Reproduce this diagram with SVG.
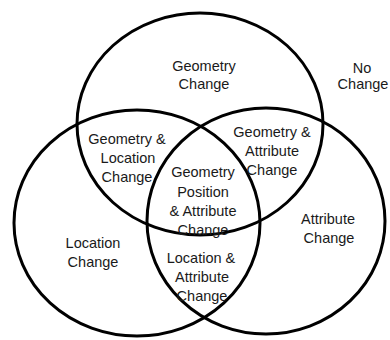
<svg xmlns="http://www.w3.org/2000/svg" width="390" height="340" viewBox="0 0 390 340">
<style>
.c{fill:none;stroke:#000;stroke-width:3}
.t{font-family:"Liberation Sans",Arial,sans-serif;font-size:14.5px;fill:#1a1a1a;text-anchor:middle}
</style>
<rect width="390" height="340" fill="#fff"/>
<g id="geometry-set"><ellipse class="c" cx="200" cy="124" rx="123" ry="111"/></g>
<g id="location-set"><ellipse class="c" cx="137" cy="223" rx="123" ry="113"/></g>
<g id="attribute-set"><ellipse class="c" cx="266" cy="221" rx="119" ry="113"/></g>
<g id="connectors"/>
<g id="geometry-change"><text class="t" x="204" y="71">Geometry</text><text class="t" x="204" y="89">Change</text></g>
<g id="no-change"><text class="t" x="362" y="73">No</text><text class="t" x="363" y="89">Change</text></g>
<g id="geometry-location"><text class="t" x="127" y="144">Geometry &amp;</text><text class="t" x="128" y="163">Location</text><text class="t" x="127" y="182">Change</text></g>
<g id="geometry-attribute"><text class="t" x="272" y="137">Geometry &amp;</text><text class="t" x="272" y="156">Attribute</text><text class="t" x="272" y="175">Change</text></g>
<g id="all-change"><text class="t" x="203" y="177">Geometry</text><text class="t" x="203" y="197">Position</text><text class="t" x="203" y="216">&amp; Attribute</text><text class="t" x="203" y="235">Change</text></g>
<g id="location-change"><text class="t" x="93" y="248">Location</text><text class="t" x="93" y="267">Change</text></g>
<g id="location-attribute"><text class="t" x="201" y="263">Location &amp;</text><text class="t" x="202" y="282">Attribute</text><text class="t" x="202" y="301">Change</text></g>
<g id="attribute-change"><text class="t" x="328" y="224">Attribute</text><text class="t" x="329" y="243">Change</text></g>
</svg>
